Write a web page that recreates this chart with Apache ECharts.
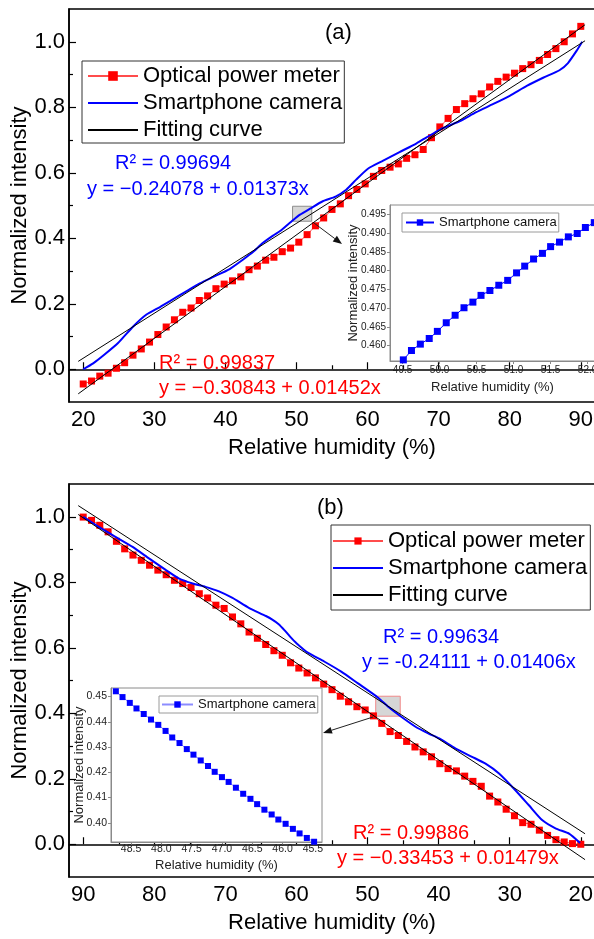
<!DOCTYPE html>
<html>
<head>
<meta charset="utf-8">
<script src="https://cdn.jsdelivr.net/npm/echarts@6/dist/echarts.min.js"></script>
<style>
  html, body { margin: 0; padding: 0; background: #fff; }
  #chart { width: 594px; height: 939px; }
</style>
</head>
<body>
<div id="chart"></div>
<script>
// ---------- (a) rising humidity ----------
const rhRise = [20.00, 21.17, 22.33, 23.50, 24.67, 25.83, 27.00, 28.17, 29.33, 30.50,
  31.67, 32.83, 34.00, 35.17, 36.33, 37.50, 38.67, 39.83, 41.00, 42.17,
  43.33, 44.50, 45.67, 46.83, 48.00, 49.17, 50.33, 51.50, 52.67, 53.83,
  55.00, 56.17, 57.33, 58.50, 59.67, 60.83, 62.00, 63.17, 64.33, 65.50,
  66.67, 67.83, 69.00, 70.17, 71.33, 72.50, 73.67, 74.83, 76.00, 77.17,
  78.33, 79.50, 80.67, 81.83, 83.00, 84.17, 85.33, 86.50, 87.67, 88.83, 90.00];
const meterRise = [-0.045, -0.036, -0.021, -0.012, 0.003, 0.020, 0.043, 0.062, 0.083, 0.106,
  0.129, 0.151, 0.174, 0.187, 0.210, 0.224, 0.246, 0.260, 0.270, 0.282,
  0.304, 0.315, 0.333, 0.342, 0.359, 0.370, 0.388, 0.411, 0.438, 0.462,
  0.488, 0.505, 0.530, 0.549, 0.566, 0.589, 0.607, 0.617, 0.627, 0.644,
  0.655, 0.671, 0.707, 0.740, 0.766, 0.793, 0.811, 0.826, 0.841, 0.862,
  0.879, 0.892, 0.904, 0.918, 0.930, 0.943, 0.961, 0.979, 1.000, 1.024, 1.047];
const cameraRiseRH = [20.0, 21.4, 23.0, 24.9, 27.0, 28.9, 30.8, 32.2, 34.5, 36.4,
  38.3, 40.6, 42.5, 44.0, 45.3, 46.7, 47.7, 49.5, 50.5, 52.0,
  53.7, 55.5, 57.0, 58.4, 60.1, 62.2, 64.5, 66.9, 68.3, 70.2,
  71.6, 73.0, 75.3, 77.7, 80.0, 82.4, 84.7, 87.0, 88.2, 89.4, 90.2];
const cameraRise = [0.000, 0.018, 0.045, 0.080, 0.130, 0.167, 0.190, 0.208, 0.238, 0.262,
  0.282, 0.306, 0.335, 0.360, 0.386, 0.408, 0.422, 0.455, 0.472, 0.4915,
  0.513, 0.527, 0.548, 0.579, 0.613, 0.637, 0.663, 0.690, 0.708, 0.732,
  0.745, 0.758, 0.785, 0.810, 0.835, 0.865, 0.890, 0.913, 0.935, 0.972, 1.000];
const fitRiseRH = [19.3, 90.6];
const fitRiseMeter = [-0.075, 1.052];
const fitRiseCamera = [0.024, 1.003];
// zoomed camera samples
const zoomRiseRH = [49.51, 49.62, 49.74, 49.86, 49.97, 50.09, 50.21, 50.33, 50.45, 50.56,
  50.68, 50.80, 50.92, 51.04, 51.15, 51.27, 51.39, 51.50, 51.62, 51.74, 51.86, 51.97, 52.09];
const zoomRise = [0.4562, 0.4587, 0.4604, 0.4619, 0.4638, 0.4661, 0.4681, 0.4701, 0.4716, 0.4734,
  0.4747, 0.4761, 0.4774, 0.4794, 0.4812, 0.4831, 0.4846, 0.4864, 0.4876, 0.4890, 0.4899, 0.4915, 0.4928];
const zoomWindowRiseRH = [49.45, 52.15];
const zoomWindowRiseY = [0.452, 0.4977];

// ---------- (b) falling humidity ----------
const rhFall = [90.00, 88.83, 87.67, 86.50, 85.33, 84.17, 83.00, 81.83, 80.67, 79.50,
  78.33, 77.17, 76.00, 74.83, 73.67, 72.50, 71.33, 70.17, 69.00, 67.83,
  66.67, 65.50, 64.33, 63.17, 62.00, 60.83, 59.67, 58.50, 57.33, 56.17,
  55.00, 53.83, 52.67, 51.50, 50.33, 49.17, 48.00, 46.83, 45.67, 44.50,
  43.33, 42.17, 41.00, 39.83, 38.67, 37.50, 36.33, 35.17, 34.00, 32.83,
  31.67, 30.50, 29.33, 28.17, 27.00, 25.83, 24.67, 23.50, 22.33, 21.17, 20.00];
const meterFall = [0.999, 0.989, 0.974, 0.954, 0.925, 0.902, 0.883, 0.867, 0.852, 0.837,
  0.823, 0.806, 0.796, 0.784, 0.765, 0.752, 0.730, 0.720, 0.694, 0.673,
  0.648, 0.629, 0.610, 0.591, 0.577, 0.554, 0.538, 0.523, 0.508, 0.489,
  0.472, 0.452, 0.435, 0.420, 0.410, 0.392, 0.369, 0.344, 0.332, 0.314,
  0.297, 0.282, 0.267, 0.246, 0.231, 0.224, 0.208, 0.192, 0.177, 0.147,
  0.129, 0.107, 0.087, 0.066, 0.061, 0.043, 0.027, 0.014, 0.007, 0.002, 0.000];
const cameraFallRH = [90.0, 87.8, 85.4, 83.05, 80.7, 78.35, 76.5, 74.6, 72.8, 70.9,
  69.0, 66.7, 64.3, 63.4, 62.5, 61.7, 60.9, 60.0, 58.4, 56.1,
  53.7, 51.4, 48.6, 47.0, 45.5, 43.2, 41.4, 39.9, 37.6, 35.3,
  33.4, 31.5, 29.2, 27.3, 25.4, 23.5, 21.6, 20.1];
const cameraFall = [1.000, 0.969, 0.938, 0.908, 0.872, 0.837, 0.811, 0.796, 0.786, 0.772,
  0.752, 0.722, 0.697, 0.686, 0.672, 0.654, 0.634, 0.614, 0.585, 0.558,
  0.527, 0.492, 0.449, 0.418, 0.393, 0.358, 0.338, 0.323, 0.292, 0.267,
  0.246, 0.216, 0.165, 0.119, 0.073, 0.048, 0.032, 0.004];
const fitFallRH = [90.7, 19.4];
const fitFallMeter = [1.007, -0.047];
const fitFallCamera = [1.034, 0.032];
const zoomFallRH = [48.75, 48.64, 48.52, 48.41, 48.29, 48.17, 48.05, 47.93, 47.82, 47.70,
  47.58, 47.47, 47.35, 47.23, 47.12, 47.00, 46.89, 46.77, 46.65, 46.53,
  46.42, 46.30, 46.18, 46.07, 45.95, 45.83, 45.72, 45.60, 45.48];
const zoomFall = [0.4521, 0.4498, 0.4475, 0.4453, 0.4431, 0.4409, 0.4388, 0.4364, 0.4338, 0.4316,
  0.4292, 0.4270, 0.4247, 0.4225, 0.4202, 0.4181, 0.4162, 0.4139, 0.4115, 0.4095,
  0.4074, 0.4052, 0.4033, 0.4013, 0.3996, 0.3976, 0.3958, 0.3940, 0.3925];
const zoomWindowFallRH = [48.85, 45.4];
const zoomWindowFallY = [0.391, 0.452];

// ---------- ticks ----------
const rhTicks = [20, 30, 40, 50, 60, 70, 80, 90];
const rhMinorTicks = [25, 35, 45, 55, 65, 75, 85];
const intensityTicks = [0.0, 0.2, 0.4, 0.6, 0.8, 1.0];
const intensityMinorTicks = [0.1, 0.3, 0.5, 0.7, 0.9];
const zoomRiseRHTicks = [49.5, 50.0, 50.5, 51.0, 51.5, 52.0];
const zoomRiseYTicks = [0.460, 0.465, 0.470, 0.475, 0.480, 0.485, 0.490, 0.495];
const zoomFallRHTicks = [48.5, 48.0, 47.5, 47.0, 46.5, 46.0, 45.5];
const zoomFallYTicks = [0.40, 0.41, 0.42, 0.43, 0.44, 0.45];

const FONT = '"Liberation Sans", Arial, Helvetica, sans-serif';
const RED = '#ff0000';
const BLUE = '#0000ff';

const pairs = (xs, ys) => xs.map((x, i) => [x, ys[i]]);

function mainX(grid, inverse) {
  return [{
    gridIndex: grid, type: 'value', min: 18, max: 92, inverse: inverse, position: 'bottom',
    name: 'Relative humidity (%)', nameLocation: 'middle', nameGap: 35, nameMoveOverlap: false,
    nameTextStyle: { fontSize: 22, color: '#000', fontFamily: FONT },
    axisLine: { lineStyle: { color: '#000', width: 1.5 } },
    axisTick: { inside: true, length: 7, customValues: rhTicks, lineStyle: { color: '#000', width: 1.2 } },
    axisLabel: { customValues: rhTicks, fontSize: 22, color: '#000', fontFamily: FONT, margin: 7 },
    splitLine: { show: false }
  }, {
    gridIndex: grid, type: 'value', min: 18, max: 92, inverse: inverse, position: 'bottom',
    axisLine: { show: false },
    axisTick: { inside: true, length: 4, customValues: rhMinorTicks, lineStyle: { color: '#000', width: 1.2 } },
    axisLabel: { show: false },
    splitLine: { show: false }
  }];
}
function mainY(grid) {
  return [{
    gridIndex: grid, type: 'value', min: -0.1, max: 1.1, position: 'left',
    name: 'Normalized intensity', nameLocation: 'middle', nameGap: 38, nameMoveOverlap: false,
    nameTextStyle: { fontSize: 22, color: '#000', fontFamily: FONT },
    axisLine: { show: true, lineStyle: { color: '#000', width: 1.5 } },
    axisTick: { show: true, inside: true, length: 7, customValues: intensityTicks, lineStyle: { color: '#000', width: 1.2 } },
    axisLabel: { customValues: intensityTicks, formatter: v => v.toFixed(1), fontSize: 22, color: '#000', fontFamily: FONT, margin: 4 },
    splitLine: { show: false }
  }, {
    gridIndex: grid, type: 'value', min: -0.1, max: 1.1, position: 'left',
    axisLine: { show: false },
    axisTick: { show: true, inside: true, length: 4, customValues: intensityMinorTicks, lineStyle: { color: '#000', width: 1.2 } },
    axisLabel: { show: false },
    splitLine: { show: false }
  }];
}
function insetX(grid, min, max, inverse, ticks, nameGap, margin, fontSize) {
  return {
    gridIndex: grid, type: 'value', min: min, max: max, inverse: inverse, position: 'bottom', z: 11,
    name: 'Relative humidity (%)', nameLocation: 'middle', nameGap: nameGap, nameMoveOverlap: false,
    nameTextStyle: { fontSize: 13, color: '#222', fontFamily: FONT },
    axisLine: { lineStyle: { color: '#8a8a8a', width: 1 } },
    axisTick: { inside: false, length: 3, customValues: ticks, lineStyle: { color: '#8a8a8a' } },
    axisLabel: { customValues: ticks, formatter: v => v.toFixed(1), fontSize: fontSize, color: '#222', fontFamily: FONT, margin: margin },
    splitLine: { show: false }
  };
}
function insetY(grid, min, max, ticks, digits, nameGap, fontSize) {
  return {
    gridIndex: grid, type: 'value', min: min, max: max, position: 'left', z: 11,
    name: 'Normalized intensity', nameLocation: 'middle', nameGap: nameGap, nameMoveOverlap: false,
    nameTextStyle: { fontSize: 13, color: '#222', fontFamily: FONT },
    axisLine: { show: true, lineStyle: { color: '#8a8a8a', width: 1 } },
    axisTick: { show: true, inside: false, length: 3, customValues: ticks, lineStyle: { color: '#8a8a8a' } },
    axisLabel: { customValues: ticks, formatter: v => v.toFixed(digits), fontSize: fontSize, color: '#222', fontFamily: FONT, margin: 4 },
    splitLine: { show: false }
  };
}

function panelSeries(xi, yi, rh, meter, camRH, cam, fitRH, fitMeter, fitCam, winRH, winY, boxBorder) {
  return [{
    name: 'Optical power meter', type: 'line', xAxisIndex: xi, yAxisIndex: yi,
    data: pairs(rh, meter), symbol: 'rect', symbolSize: 7,
    itemStyle: { color: RED }, lineStyle: { color: RED, width: 1, opacity: 0.7 }, z: 2, animation: false
  }, {
    name: 'Smartphone camera', type: 'line', xAxisIndex: xi, yAxisIndex: yi,
    data: pairs(camRH, cam), symbol: 'none', smooth: 0.2,
    itemStyle: { color: BLUE }, lineStyle: { color: BLUE, width: 2 }, z: 3, animation: false,
    markArea: {
      silent: true,
      itemStyle: { color: 'rgba(200,200,200,0.75)', borderColor: boxBorder, borderWidth: 1 },
      data: [[{ coord: [winRH[0], winY[0]] }, { coord: [winRH[1], winY[1]] }]]
    }
  }, {
    name: 'Fitting curve', type: 'line', xAxisIndex: xi, yAxisIndex: yi,
    data: pairs(fitRH, fitMeter), symbol: 'none',
    itemStyle: { color: '#000' }, lineStyle: { color: '#000', width: 1 }, z: 4, animation: false
  }, {
    name: 'Fitting curve', type: 'line', xAxisIndex: xi, yAxisIndex: yi,
    data: pairs(fitRH, fitCam), symbol: 'none',
    itemStyle: { color: '#000' }, lineStyle: { color: '#000', width: 1 }, z: 4, animation: false
  }];
}

function mainLegend(left, top, padding, itemHeight) {
  return {
    left: left, top: top, orient: 'vertical', selectedMode: false,
    itemWidth: 50, itemHeight: itemHeight, itemGap: 5, padding: padding,
    borderColor: '#333', borderWidth: 1, backgroundColor: '#fff', z: 6,
    textStyle: { fontSize: 22, color: '#000', fontFamily: FONT },
    data: [
      { name: 'Optical power meter' },
      { name: 'Smartphone camera', itemStyle: { opacity: 0 } },
      { name: 'Fitting curve', itemStyle: { opacity: 0 } }
    ]
  };
}
function insetLegend(left, top, name, itemWidth, padding) {
  return {
    left: left, top: top, orient: 'vertical', selectedMode: false,
    itemWidth: itemWidth, itemHeight: 8, padding: padding,
    borderColor: '#9a9a9a', borderWidth: 1, backgroundColor: '#fff', z: 13,
    textStyle: { fontSize: 13, color: '#111', fontFamily: FONT },
    formatter: () => 'Smartphone camera',
    data: [{ name: name }]
  };
}

function arrow(x1, y1, x2, y2) {
  const dx = x2 - x1, dy = y2 - y1, len = Math.hypot(dx, dy);
  const ux = dx / len, uy = dy / len, head = 9, half = 3.5;
  const bx = x2 - ux * head, by = y2 - uy * head;
  return [
    { type: 'line', z: 30, shape: { x1: x1, y1: y1, x2: bx, y2: by }, style: { stroke: '#222', lineWidth: 1 } },
    { type: 'polygon', z: 30, shape: { points: [[x2, y2], [bx - uy * half, by + ux * half], [bx + uy * half, by - ux * half]] }, style: { fill: '#111' } }
  ];
}
function label(x, y, text, color, size) {
  return { type: 'text', x: x, y: y, z: 20, style: { text: text, fill: color, font: size + 'px ' + FONT, verticalAlign: 'middle' } };
}

const zoomRiseName = 'Smartphone camera (49.5-52.0 %RH)';
const zoomFallName = 'Smartphone camera (48.5-45.5 %RH)';

const gridBase = { show: true, outerBoundsMode: 'none', containLabel: false };

const option = {
  animation: false,
  backgroundColor: '#fff',
  textStyle: { fontFamily: FONT },
  grid: [
    Object.assign({ left: 69, top: 9, width: 526, height: 393, borderColor: '#000', borderWidth: 1.5, backgroundColor: 'transparent' }, gridBase),
    Object.assign({ left: 69, top: 484, width: 526, height: 393, borderColor: '#000', borderWidth: 1.5, backgroundColor: 'transparent' }, gridBase),
    Object.assign({ left: 390, top: 205, width: 205, height: 156, borderColor: '#8a8a8a', borderWidth: 1, backgroundColor: '#fff', z: 10 }, gridBase),
    Object.assign({ left: 111, top: 688, width: 211, height: 154, borderColor: '#8a8a8a', borderWidth: 1, backgroundColor: '#fff', z: 10 }, gridBase)
  ],
  xAxis: [
    ...mainX(0, false),
    ...mainX(1, true),
    insetX(2, 49.33, 52.1, false, zoomRiseRHTicks, 20, 4, 10),
    insetX(3, 45.35, 48.83, true, zoomFallRHTicks, 17, 2, 10.5)
  ],
  yAxis: [
    ...mainY(0),
    ...mainY(1),
    insetY(2, 0.4559, 0.4975, zoomRiseYTicks, 3, 30, 10),
    insetY(3, 0.3924, 0.4534, zoomFallYTicks, 2, 25, 10.5)
  ],
  legend: [
    mainLegend(82, 61, [4, 2, 2, 5], 12),
    mainLegend(331, 525, [5, 3, 4, 1], 9),
    insetLegend(402, 213, zoomRiseName, 28, [3, 2, 3, 3]),
    insetLegend(159, 696, zoomFallName, 31, [2, 2, 2, 2])
  ],
  series: [
    ...panelSeries(0, 0, rhRise, meterRise, cameraRiseRH, cameraRise, fitRiseRH, fitRiseMeter, fitRiseCamera,
      zoomWindowRiseRH, zoomWindowRiseY, '#8c8c8c'),
    ...panelSeries(2, 2, rhFall, meterFall, cameraFallRH, cameraFall, fitFallRH, fitFallMeter, fitFallCamera,
      zoomWindowFallRH, zoomWindowFallY, '#f08a8a'),
    {
      name: zoomRiseName, type: 'line', xAxisIndex: 4, yAxisIndex: 4, z: 12,
      data: pairs(zoomRiseRH, zoomRise), symbol: 'rect', symbolSize: 7,
      itemStyle: { color: BLUE }, lineStyle: { color: BLUE, width: 1 }, animation: false
    },
    {
      name: zoomFallName, type: 'line', xAxisIndex: 5, yAxisIndex: 5, z: 12,
      data: pairs(zoomFallRH, zoomFall), symbol: 'rect', symbolSize: 6,
      itemStyle: { color: BLUE }, lineStyle: { color: '#8c8cff', width: 1 }, animation: false
    }
  ],
  graphic: [
    label(325, 33, '(a)', '#000', 22),
    label(317, 508, '(b)', '#000', 22),
    label(115, 163, 'R² = 0.99694', BLUE, 20),
    label(87, 189, 'y = \u22120.24078 + 0.01373x', BLUE, 20),
    label(159, 363, 'R² = 0.99837', RED, 20),
    label(159, 388, 'y = \u22120.30843 + 0.01452x', RED, 20),
    label(383, 637, 'R² = 0.99634', BLUE, 20),
    label(362, 662, 'y = -0.24111 + 0.01406x', BLUE, 20),
    label(353, 833, 'R² = 0.99886', RED, 20),
    label(337, 858, 'y = \u22120.33453 + 0.01479x', RED, 20),
    ...arrow(314, 223, 342, 244),
    ...arrow(373, 717, 323, 733)
  ]
};

const chart = echarts.init(document.getElementById('chart'), null, { renderer: 'canvas' });
chart.setOption(option);
</script>
</body>
</html>
